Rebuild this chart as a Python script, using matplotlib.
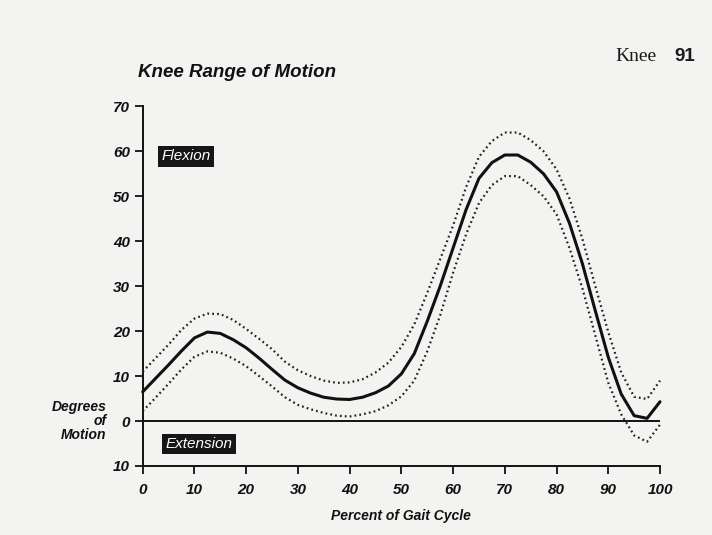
import numpy as np
import matplotlib
matplotlib.use("Agg")
import matplotlib.pyplot as plt

# percent of gait cycle
gait_pct = [0, 2.5, 5, 7.5, 10, 12.5, 15, 17.5, 20, 22.5, 25, 27.5, 30, 32.5,
            35, 37.5, 40, 42.5, 45, 47.5, 50, 52.5, 55, 57.5, 60, 62.5, 65,
            67.5, 70, 72.5, 75, 77.5, 80, 82.5, 85, 87.5, 90, 92.5, 95, 97.5, 100]

# mean knee angle (degrees)
knee_mean = [6.5, 9.5, 12.5, 15.6, 18.5, 19.8, 19.5, 18.1, 16.3, 14.0, 11.5,
             9.1, 7.4, 6.2, 5.3, 4.9, 4.8, 5.3, 6.3, 7.8, 10.5, 15.0, 22.2,
             30.0, 38.5, 47.0, 54.0, 57.5, 59.2, 59.2, 57.6, 55.0, 51.0, 44.0,
             35.0, 24.5, 14.2, 6.0, 1.2, 0.6, 4.3]

# upper / lower dotted bounds
knee_upper = [11.0, 14.0, 17.0, 20.3, 22.8, 23.9, 23.8, 22.5, 20.5, 18.3, 16.0,
              13.2, 11.3, 10.0, 9.0, 8.5, 8.6, 9.3, 10.8, 13.0, 16.5, 21.5,
              28.5, 36.0, 43.5, 52.0, 58.8, 62.3, 64.2, 64.2, 62.5, 60.0, 56.0,
              49.5, 40.5, 30.0, 19.8, 10.8, 5.4, 4.9, 9.0]
knee_lower = [2.2, 5.2, 8.3, 11.5, 14.3, 15.5, 15.2, 13.9, 12.2, 10.0, 7.7,
              5.3, 3.6, 2.6, 1.8, 1.2, 1.0, 1.5, 2.2, 3.5, 5.5, 9.0, 15.5,
              23.5, 33.0, 41.5, 48.5, 52.5, 54.5, 54.5, 52.5, 50.0, 46.0, 38.5,
              29.5, 19.0, 8.5, 1.5, -3.2, -4.6, -0.8]

xticks = [0, 10, 20, 30, 40, 50, 60, 70, 80, 90, 100]
yticks = [-10, 0, 10, 20, 30, 40, 50, 60, 70]
ytick_labels = ['10', '0', '10', '20', '30', '40', '50', '60', '70']

plt.rcParams['font.family'] = ['Liberation Sans', 'DejaVu Sans']

fig = plt.figure(figsize=(7.12, 5.35), dpi=100, facecolor='#f3f4f1')
ax = fig.add_axes([0.2004, 0.129, 0.7266, 0.672])
ax.set_facecolor('none')

# curves
ax.plot(gait_pct, knee_mean, color='#111111', lw=2.2, solid_capstyle='round',
        solid_joinstyle='round', clip_on=False, zorder=3)
ax.plot(gait_pct, knee_upper, color='#222222', lw=1.6,
        linestyle=(0, (0.8, 1.4)), clip_on=False, zorder=3)
ax.plot(gait_pct, knee_lower, color='#222222', lw=1.6,
        linestyle=(0, (0.8, 1.4)), clip_on=False, zorder=3)

# zero line
ax.axhline(0, xmin=0, xmax=1, color='#111111', lw=1.4, zorder=2)

ax.set_xlim(0, 100)
ax.set_ylim(-10, 70)

for side in ['top', 'right']:
    ax.spines[side].set_visible(False)
for side in ['left', 'bottom']:
    ax.spines[side].set_linewidth(1.4)
    ax.spines[side].set_color('#111111')

ax.set_xticks(xticks)
ax.set_yticks(yticks)
ax.set_yticklabels(ytick_labels)
ax.tick_params(axis='both', direction='out', length=6, width=1.3,
               color='#111111', labelsize=11)
ax.tick_params(axis='x', pad=6)
ax.tick_params(axis='y', pad=3)
for lab in ax.get_xticklabels() + ax.get_yticklabels():
    lab.set_fontweight('bold')
    lab.set_fontstyle('italic')
    lab.set_color('#111111')

ax.set_xlabel('Percent of Gait Cycle', fontsize=10, fontweight='bold',
              fontstyle='italic', labelpad=9, color='#111111')

# y label block at the zero line
ax.text(-7.0, 0, 'Degrees\nof\nMotion', ha='right', va='center',
        fontsize=10, fontweight='bold', fontstyle='italic',
        linespacing=1.0, color='#111111')

# region tags
box = dict(facecolor='#161616', edgecolor='none', pad=2.4)
ax.text(3.6, 58.9, 'Flexion', color='white', fontsize=11, fontstyle='italic',
        va='center', ha='left', bbox=box)
ax.text(4.4, -5.1, 'Extension', color='white', fontsize=11, fontstyle='italic',
        va='center', ha='left', bbox=box)

# title
fig.text(0.194, 0.856, 'Knee Range of Motion', fontsize=13.5,
         fontweight='bold', fontstyle='italic', color='#111111')

# page header
fig.text(0.922, 0.895, 'Knee', fontsize=14, family='Liberation Serif',
         ha='right', va='center', color='#1a1a1a')
fig.text(0.977, 0.895, '91', fontsize=13.5, fontweight='bold',
         ha='right', va='center', color='#1a1a1a')

fig.savefig('out.png', dpi=100, facecolor=fig.get_facecolor())
